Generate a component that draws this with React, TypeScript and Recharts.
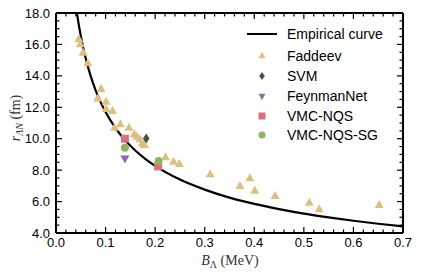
import React from "react";
import { ComposedChart, Line, Scatter, XAxis, YAxis } from "recharts";

// empirical curve
const curveB = [0.0423, 0.045, 0.05, 0.055, 0.06, 0.07, 0.08, 0.09, 0.1, 0.12, 0.14, 0.16, 0.18, 0.2, 0.25, 0.3, 0.35, 0.4, 0.45, 0.5, 0.55, 0.6, 0.65, 0.7];
const curveR = [17.99, 17.44, 16.55, 15.78, 15.11, 13.98, 13.08, 12.33, 11.7, 10.68, 9.89, 9.25, 8.72, 8.27, 7.4, 6.76, 6.25, 5.85, 5.52, 5.23, 4.99, 4.78, 4.59, 4.42];

const faddeevB = [0.046, 0.049, 0.055, 0.064, 0.084, 0.091, 0.101, 0.101, 0.114, 0.118, 0.13, 0.147, 0.158, 0.163, 0.169, 0.174, 0.178, 0.221, 0.237, 0.249, 0.311, 0.371, 0.391, 0.401, 0.442, 0.511, 0.531, 0.652];
const faddeevR = [16.31, 15.99, 15.45, 14.78, 12.53, 13.14, 12.33, 11.87, 11.74, 10.68, 10.9, 10.68, 10.26, 10.11, 9.94, 9.69, 9.58, 8.8, 8.52, 8.37, 7.71, 6.97, 7.46, 6.67, 6.33, 5.91, 5.49, 5.76];

const svmB = [0.182];
const svmR = [10.02];
const feynmanB = [0.139];
const feynmanR = [8.77];
const nqsB = [0.139, 0.206];
const nqsR = [10.0, 8.24];
const nqsSgB = [0.139, 0.207];
const nqsSgR = [9.43, 8.58];

const xMajor = [0, 0.1, 0.2, 0.3, 0.4, 0.5, 0.6, 0.7];
const yMajor = [4, 6, 8, 10, 12, 14, 16, 18];

const xTicks = Array.from({ length: 36 }, (_, i) => +(i * 0.02).toFixed(2));
const yTicks = Array.from({ length: 29 }, (_, i) => 4 + i * 0.5);

const pts = (b: number[], r: number[]) => b.map((v, i) => ({ b: v, r: r[i] }));

const C = {
  faddeev: "#dfbf7f",
  svm: "#4d4d4d",
  feynman: "#8e6bb0",
  nqs: "#d9727c",
  nqsSg: "#8cb463",
};

const W = 421;
const H = 275;
const tickFont = "'Liberation Sans', Arial, sans-serif";
const mathFont = "'Liberation Serif', 'DejaVu Serif', serif";

const isMajorX = (v: number) => xMajor.some((m) => Math.abs(m - v) < 1e-6);
const isMajorY = (v: number) => yMajor.some((m) => Math.abs(m - v) < 1e-6);

function makeTick(side: "bottom" | "top" | "left" | "right") {
  return (props: any) => {
    const { x, y, payload } = props;
    const v = payload.value;
    const major = side === "bottom" || side === "top" ? isMajorX(v) : isMajorY(v);
    const len = major ? 6 : 3.5;
    if (side === "bottom")
      return (
        <g>
          <line x1={x} y1={y} x2={x} y2={y - len} stroke="#000" strokeWidth={1.2} />
          {major && (
            <text x={x} y={y + 14} textAnchor="middle" fontSize={13} fontFamily={tickFont} fill="#000">
              {v.toFixed(1)}
            </text>
          )}
        </g>
      );
    if (side === "top")
      return <line x1={x} y1={y} x2={x} y2={y + len} stroke="#000" strokeWidth={1.2} />;
    if (side === "left")
      return (
        <g>
          <line x1={x} y1={y} x2={x + len} y2={y} stroke="#000" strokeWidth={1.2} />
          {major && (
            <text x={x - 6} y={y + 4.5} textAnchor="end" fontSize={13} fontFamily={tickFont} fill="#000">
              {v.toFixed(1)}
            </text>
          )}
        </g>
      );
    return <line x1={x} y1={y} x2={x - len} y2={y} stroke="#000" strokeWidth={1.2} />;
  };
}

const tri = (cx: number, cy: number, w: number, h: number, fill: string, down = false) => {
  const s = down ? -1 : 1;
  return (
    <polygon
      points={`${cx - w / 2},${cy + (s * h) / 3} ${cx + w / 2},${cy + (s * h) / 3} ${cx},${cy - (s * 2 * h) / 3}`}
      fill={fill}
    />
  );
};

const TriUp = (p: any) => tri(p.cx, p.cy, 9, 8, C.faddeev);
const TriDown = (p: any) => tri(p.cx, p.cy, 9, 8, C.feynman, true);
const Diamond = (p: any) => (
  <polygon points={`${p.cx},${p.cy - 5} ${p.cx + 3.3},${p.cy} ${p.cx},${p.cy + 5} ${p.cx - 3.3},${p.cy}`} fill={C.svm} />
);
const Square = (p: any) => <rect x={p.cx - 4} y={p.cy - 4} width={8} height={8} fill={C.nqs} />;
const Dot = (p: any) => <circle cx={p.cx} cy={p.cy} r={4} fill={C.nqsSg} />;

const legendRows = [
  { label: "Empirical curve", y: 34 },
  { label: "Faddeev", y: 56 },
  { label: "SVM", y: 76 },
  { label: "FeynmanNet", y: 96 },
  { label: "VMC-NQS", y: 116 },
  { label: "VMC-NQS-SG", y: 135 },
];

function Overlay() {
  const mx = 262;
  const m = [
    <line key="l" x1={247} y1={34} x2={277} y2={34} stroke="#000" strokeWidth={2} />,
    <g key="f">{tri(mx, 56, 7, 6.5, C.faddeev)}</g>,
    <polygon key="s" points={`${mx},${72} ${mx + 2.8},${76} ${mx},${80} ${mx - 2.8},${76}`} fill={C.svm} />,
    <g key="n">{tri(mx, 96, 7, 6.5, C.feynman, true)}</g>,
    <rect key="q" x={mx - 3.5} y={112.5} width={7} height={7} fill={C.nqs} />,
    <circle key="c" cx={mx} cy={135} r={3.5} fill={C.nqsSg} />,
  ];
  return (
    <svg width={W} height={H} style={{ position: "absolute", left: 0, top: 0, pointerEvents: "none" }}>
      {m}
      {legendRows.map((r) => (
        <text key={r.label} x={287} y={r.y + 5} fontSize={14} fontFamily={tickFont} fill="#000">
          {r.label}
        </text>
      ))}
      <text x={230} y={265} textAnchor="middle" fontSize={14} fontFamily={mathFont} fill="#333">
        <tspan fontStyle="italic">B</tspan>
        <tspan fontSize={10} dy={3}>Λ</tspan>
        <tspan dy={-3}> (MeV)</tspan>
      </text>
      <text x={20} y={118} textAnchor="middle" fontSize={14} fontFamily={mathFont} fill="#333" transform="rotate(-90, 20, 118)">
        <tspan fontStyle="italic">r</tspan>
        <tspan fontSize={10} fontStyle="italic" dy={3}>ΛN</tspan>
        <tspan dy={-3}> (fm)</tspan>
      </text>
    </svg>
  );
}

export default function App() {
  const axisLine = { stroke: "#000", strokeWidth: 2 };
  const curve = pts(curveB, curveR);
  return (
    <div style={{ position: "absolute", left: 0, top: 0, width: W, height: H, background: "#fff" }}>
      <ComposedChart width={W} height={H} margin={{ top: 12, right: 17, bottom: 12, left: 6 }}>
        <XAxis
          xAxisId="b"
          type="number"
          dataKey="b"
          domain={[0, 0.7]}
          ticks={xTicks}
          interval={0}
          allowDataOverflow
          height={30}
          tickSize={0}
          tickMargin={0}
          tickLine={false}
          axisLine={axisLine}
          tick={makeTick("bottom")}
        />
        <XAxis
          xAxisId="t"
          orientation="top"
          type="number"
          dataKey="b"
          domain={[0, 0.7]}
          ticks={xTicks}
          interval={0}
          allowDataOverflow
          height={1}
          tickSize={0}
          tickMargin={0}
          tickLine={false}
          axisLine={axisLine}
          tick={makeTick("top")}
        />
        <YAxis
          yAxisId="l"
          type="number"
          dataKey="r"
          domain={[4, 18]}
          ticks={yTicks}
          interval={0}
          allowDataOverflow
          width={50}
          tickSize={0}
          tickMargin={0}
          tickLine={false}
          axisLine={axisLine}
          tick={makeTick("left")}
        />
        <YAxis
          yAxisId="r"
          orientation="right"
          type="number"
          dataKey="r"
          domain={[4, 18]}
          ticks={yTicks}
          interval={0}
          allowDataOverflow
          width={1}
          tickSize={0}
          tickMargin={0}
          tickLine={false}
          axisLine={axisLine}
          tick={makeTick("right")}
        />
        {/* invisible copy so the top and right frame axes are drawn */}
        <Line
          xAxisId="t"
          yAxisId="r"
          data={curve}
          dataKey="r"
          stroke="none"
          dot={false}
          activeDot={false}
          legendType="none"
          isAnimationActive={false}
        />
        <Line
          xAxisId="b"
          yAxisId="l"
          data={curve}
          dataKey="r"
          type="monotone"
          stroke="#000"
          strokeWidth={2.2}
          dot={false}
          isAnimationActive={false}
        />
        <Scatter xAxisId="b" yAxisId="l" data={pts(faddeevB, faddeevR)} dataKey="r" shape={TriUp} isAnimationActive={false} />
        <Scatter xAxisId="b" yAxisId="l" data={pts(svmB, svmR)} dataKey="r" shape={Diamond} isAnimationActive={false} />
        <Scatter xAxisId="b" yAxisId="l" data={pts(feynmanB, feynmanR)} dataKey="r" shape={TriDown} isAnimationActive={false} />
        <Scatter xAxisId="b" yAxisId="l" data={pts(nqsB, nqsR)} dataKey="r" shape={Square} isAnimationActive={false} />
        <Scatter xAxisId="b" yAxisId="l" data={pts(nqsSgB, nqsSgR)} dataKey="r" shape={Dot} isAnimationActive={false} />
      </ComposedChart>
      <Overlay />
    </div>
  );
}
